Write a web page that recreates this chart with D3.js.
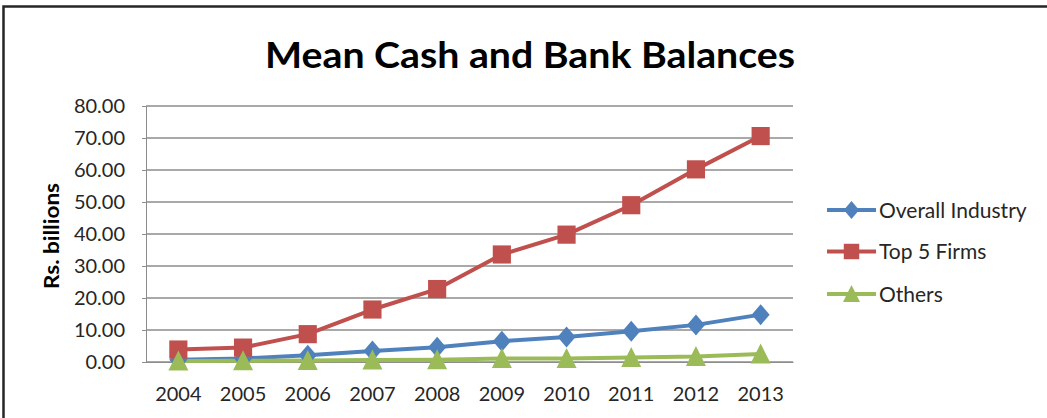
<!DOCTYPE html>
<html><head><meta charset="utf-8">
<script src="https://cdn.jsdelivr.net/npm/d3@7"></script>
<style>body{margin:0;background:#fff}svg{display:block}</style>
</head><body>
<svg id="c" width="1047" height="418"></svg>
<script>
const years = ["2004","2005","2006","2007","2008","2009","2010","2011","2012","2013"];
const overallIndustry = [0.7, 1.1, 2.1, 3.4, 4.6, 6.5, 7.8, 9.6, 11.6, 14.8];
const top5Firms = [3.9, 4.5, 8.7, 16.4, 22.8, 33.6, 39.8, 49.0, 60.2, 70.6];
const others = [0.3, 0.4, 0.5, 0.6, 0.7, 1.1, 1.1, 1.4, 1.7, 2.5];
const yTicks = [0, 10, 20, 30, 40, 50, 60, 70, 80];
const seriesNames = ["Overall Industry", "Top 5 Firms", "Others"];
const colors = ["#4f81bd", "#c0504d", "#9bbb59"];
const series = [overallIndustry, top5Firms, others];

const svg = d3.select("#c");
const font = "Lato, 'Open Sans', sans-serif";
// frame
svg.append("rect").attr("x",3.5).attr("y",6.5).attr("width",1100).attr("height",500)
  .attr("fill","none").attr("stroke","#262626").attr("stroke-width",2.5);

const L=146, R=793, T=106, B=362;
const x = d3.scaleBand().domain(years).range([L,R]);
const y = d3.scaleLinear().domain([0,80]).range([B,T]);
const cx = i => x(years[i]) + x.bandwidth()/2;

// gridlines
svg.append("g").selectAll("line").data(yTicks).join("line")
  .attr("x1",L).attr("x2",R).attr("y1",d=>y(d)).attr("y2",d=>y(d))
  .attr("stroke","#8c8c8c").attr("stroke-width",1.3);

// y axis
const ya = svg.append("g").attr("transform",`translate(${L},0)`)
  .call(d3.axisLeft(y).tickValues(yTicks).tickFormat(d3.format(".2f")).tickSize(4).tickPadding(17));
ya.select(".domain").attr("stroke","#8c8c8c");
ya.selectAll(".tick line").attr("stroke","#8c8c8c");
ya.selectAll("text").attr("font-family",font).attr("font-size",20).attr("fill","#262626");

// x axis
const xa = svg.append("g").attr("transform",`translate(0,${B})`)
  .call(d3.axisBottom(x).tickSize(0).tickPadding(25));
xa.select(".domain").attr("stroke","#8c8c8c");
xa.selectAll("text").attr("font-family",font).attr("font-size",20).attr("fill","#262626");

// marker shapes (scaled by s)
const markers = [
  (g,s)=>g.append("path").attr("d",`M0,${-10.5*s}L${9*s},0L0,${10.5*s}L${-9*s},0Z`),
  (g,s)=>g.append("path").attr("d",d3.symbol().type(d3.symbolSquare).size(s*s*330)),
  (g,s)=>g.append("path").attr("d",`M0,${-10.5*s}L${10*s},${9.5*s}L${-10*s},${9.5*s}Z`)
];

// lines
const line = d3.line().x((d,i)=>cx(i)).y(d=>y(d));
series.forEach((s,k)=>{
  svg.append("path").datum(s).attr("d",line).attr("fill","none")
    .attr("stroke",colors[k]).attr("stroke-width",4).attr("stroke-linejoin","round");
});
series.forEach((s,k)=>{
  svg.append("g").attr("fill",colors[k]).selectAll("g").data(s).join("g")
    .attr("transform",(d,i)=>`translate(${cx(i)},${y(d)})`)
    .each(function(){ markers[k](d3.select(this),1); });
});

// title
svg.append("text").attr("x",530).attr("y",68).attr("text-anchor","middle")
  .attr("font-family",font).attr("font-weight","bold").attr("font-size",37).attr("fill","#000")
  .attr("textLength",530).attr("lengthAdjust","spacingAndGlyphs")
  .text("Mean Cash and Bank Balances");

// y title
svg.append("text").attr("transform","translate(59,236) rotate(-90)").attr("text-anchor","middle")
  .attr("font-family",font).attr("font-weight","bold").attr("font-size",20).attr("fill","#000")
  .attr("textLength",106).attr("lengthAdjust","spacingAndGlyphs")
  .text("Rs. billions");

// legend
const ly = [210, 251.5, 294];
seriesNames.forEach((n,k)=>{
  const g = svg.append("g");
  g.append("line").attr("x1",827).attr("x2",876).attr("y1",ly[k]).attr("y2",ly[k])
    .attr("stroke",colors[k]).attr("stroke-width",4);
  const mg = g.append("g").attr("fill",colors[k]).attr("transform",`translate(851.5,${ly[k]})`);
  markers[k](mg,0.85);
  g.append("text").attr("x",879).attr("y",ly[k]).attr("dy","0.36em")
    .attr("font-family",font).attr("font-size",21).attr("fill","#262626").text(n);
});
</script>
</body></html>
